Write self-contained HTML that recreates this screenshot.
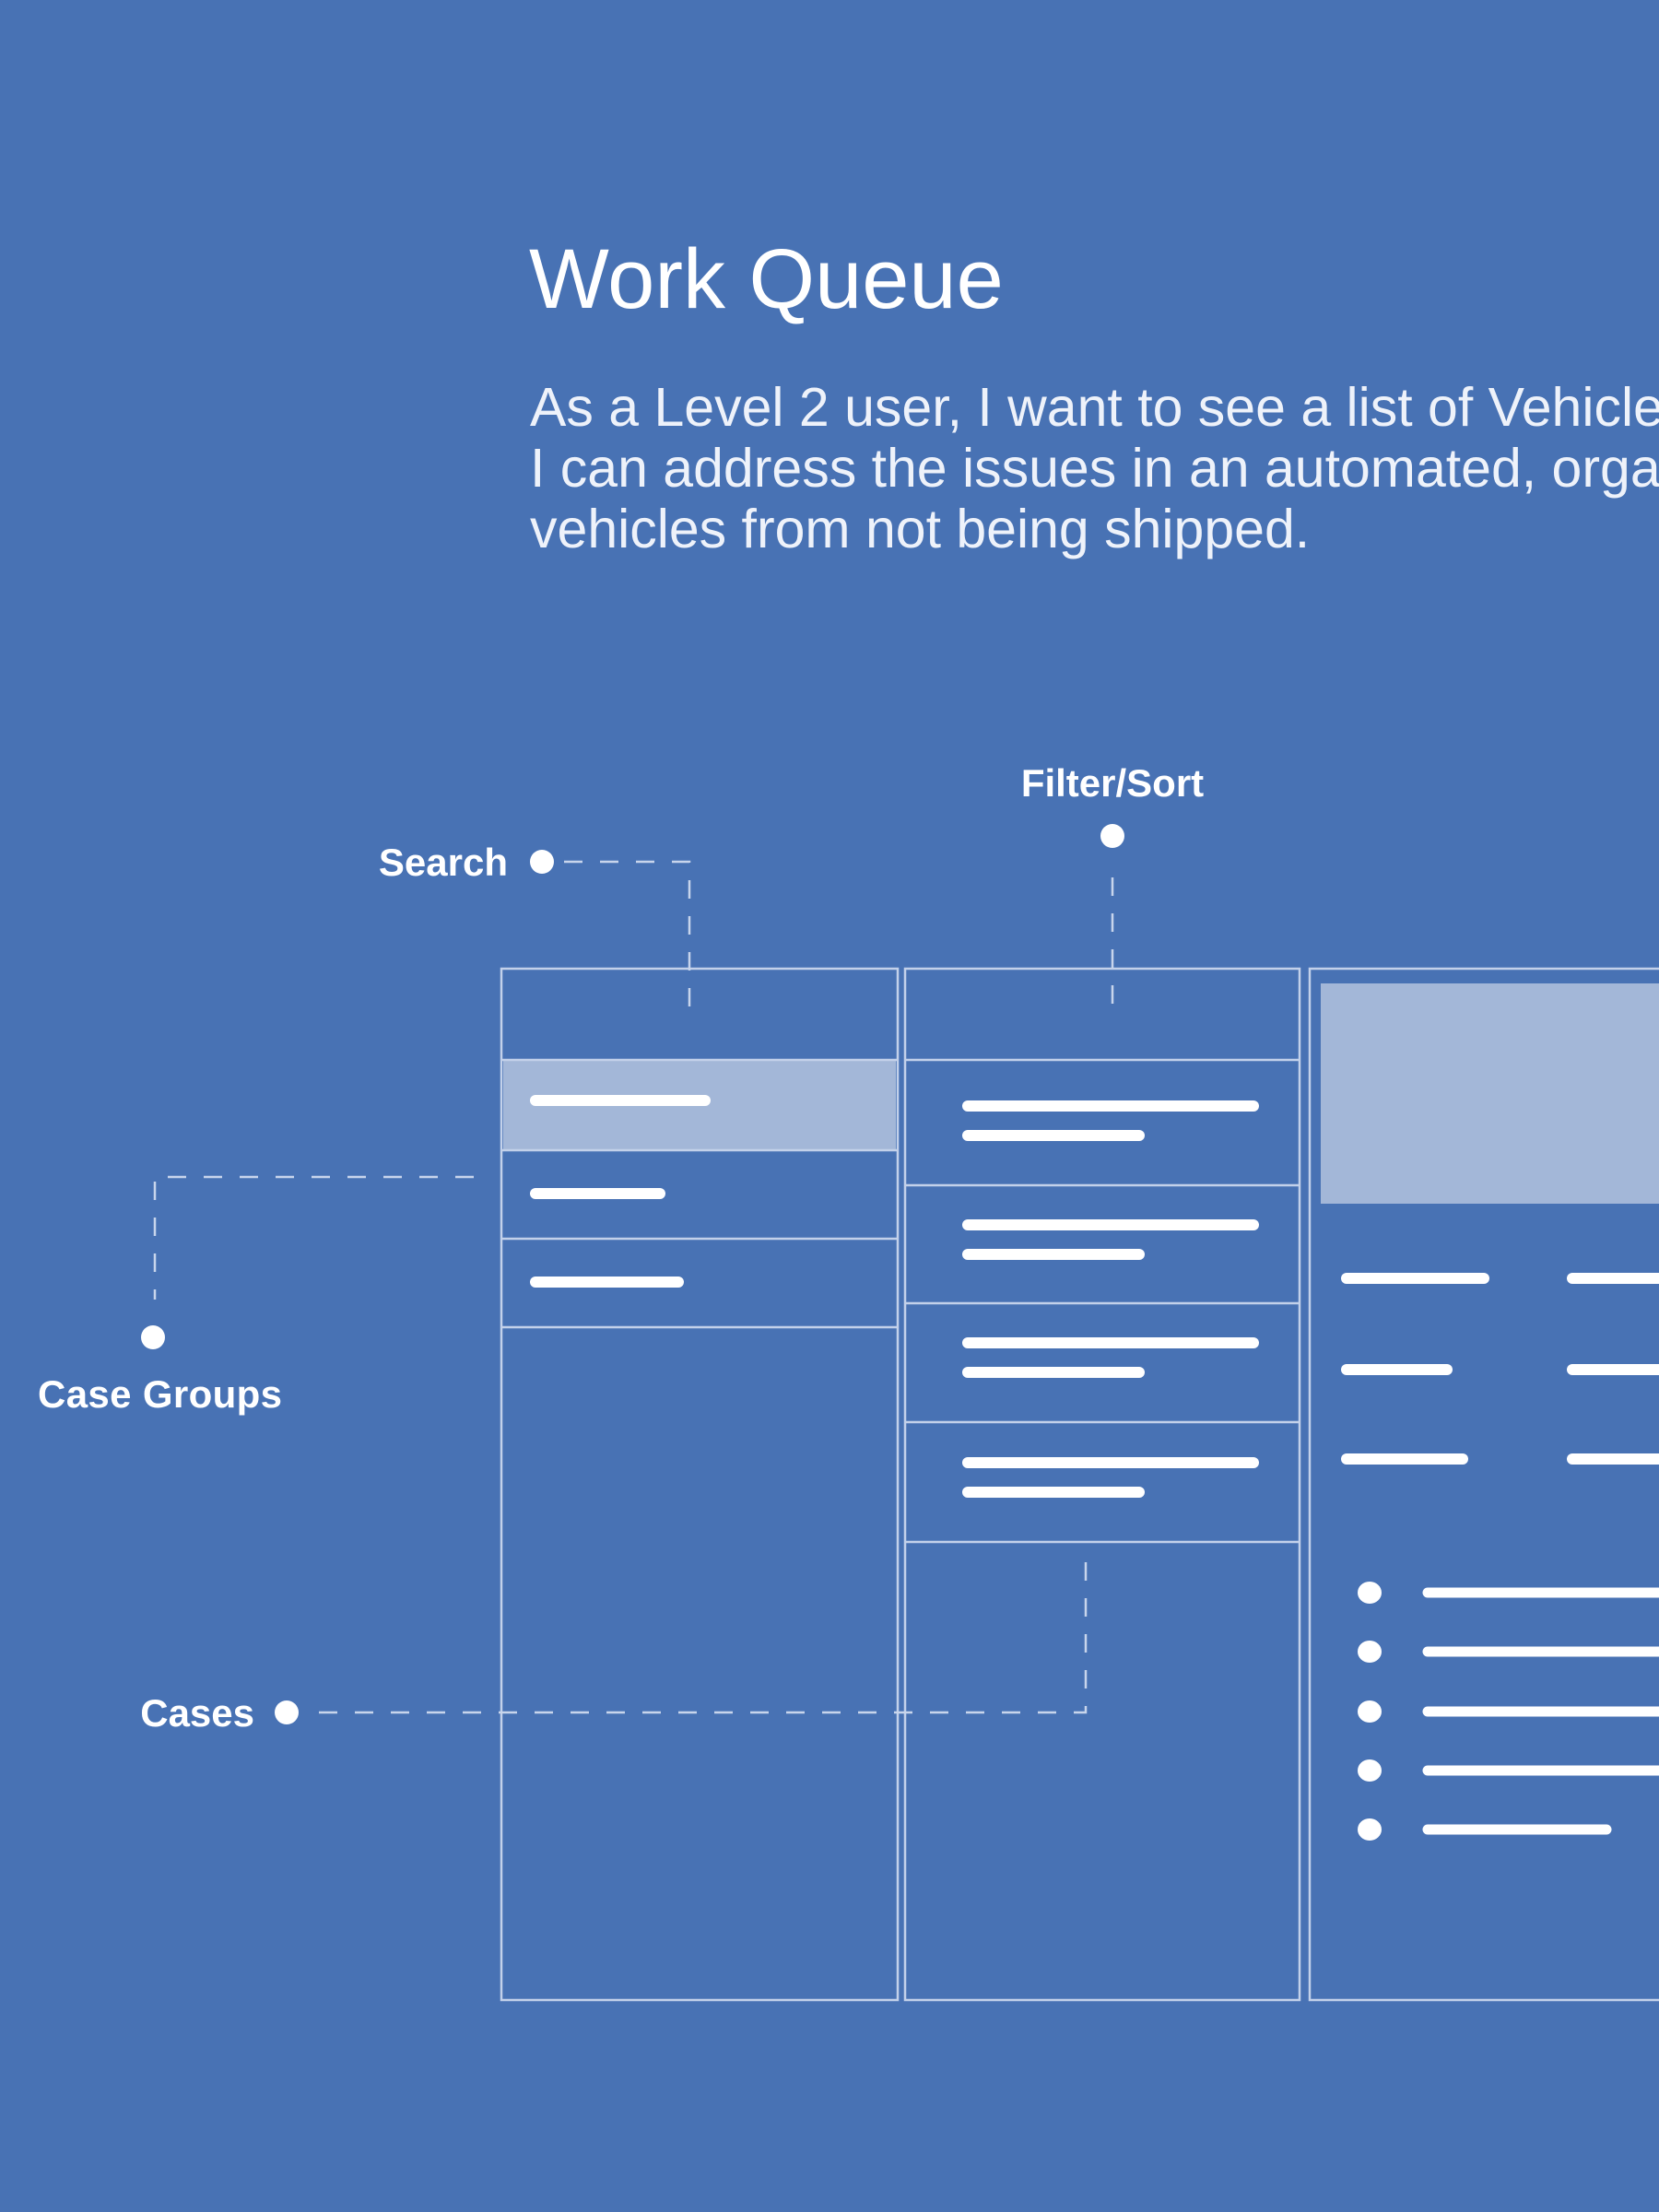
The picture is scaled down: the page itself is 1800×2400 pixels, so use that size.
<!DOCTYPE html>
<html><head><meta charset="utf-8"><style>
html,body{margin:0;padding:0;}
body{width:1800px;height:2400px;overflow:hidden;background:#4872b4;}
svg{display:block}
</style></head><body>
<svg width="1800" height="2400" viewBox="0 0 1800 2400" xmlns="http://www.w3.org/2000/svg">
<rect width="1800" height="2400" fill="#4872b4"/>
<text x="574" y="334" font-family="Liberation Sans, sans-serif" font-size="92" fill="#ffffff">Work Queue</text>
<g font-family="Liberation Sans, sans-serif" font-size="59" fill="#eef2fa">
<text x="575" y="462">As a Level 2 user, I want to see a list of Vehicles with issues so that</text>
<text x="575" y="528">I can address the issues in an automated, organized manner and prevent</text>
<text x="575" y="594">vehicles from not being shipped.</text>
</g>
<!-- panels -->
<g fill="none" stroke="#c3d1ea" stroke-width="2.5">
<rect x="544" y="1051" width="430" height="1119"/>
<rect x="982" y="1051" width="428" height="1119"/>
<rect x="1421" y="1051" width="400" height="1119"/>
</g>
<rect x="546" y="1151" width="426" height="97" fill="#a3b7d8"/>
<g stroke="#c3d1ea" stroke-width="2.5">
<line x1="544" y1="1150" x2="974" y2="1150"/>
<line x1="544" y1="1248" x2="974" y2="1248"/>
<line x1="544" y1="1344" x2="974" y2="1344"/>
<line x1="544" y1="1440" x2="974" y2="1440"/>
<line x1="982" y1="1150" x2="1410" y2="1150"/>
<line x1="982" y1="1286" x2="1410" y2="1286"/>
<line x1="982" y1="1414" x2="1410" y2="1414"/>
<line x1="982" y1="1543" x2="1410" y2="1543"/>
<line x1="982" y1="1673" x2="1410" y2="1673"/>
</g>
<rect x="1433" y="1067" width="380" height="239" fill="#a3b7d8"/>
<g stroke="#ffffff" stroke-width="12" stroke-linecap="round">
<line x1="581" y1="1194" x2="765" y2="1194"/>
<line x1="581" y1="1295" x2="716" y2="1295"/>
<line x1="581" y1="1391" x2="736" y2="1391"/>
<line x1="1050" y1="1200" x2="1360" y2="1200"/>
<line x1="1050" y1="1232" x2="1236" y2="1232"/>
<line x1="1050" y1="1329" x2="1360" y2="1329"/>
<line x1="1050" y1="1361" x2="1236" y2="1361"/>
<line x1="1050" y1="1457" x2="1360" y2="1457"/>
<line x1="1050" y1="1489" x2="1236" y2="1489"/>
<line x1="1050" y1="1587" x2="1360" y2="1587"/>
<line x1="1050" y1="1619" x2="1236" y2="1619"/>
<line x1="1461" y1="1387" x2="1610" y2="1387"/>
<line x1="1461" y1="1486" x2="1570" y2="1486"/>
<line x1="1461" y1="1583" x2="1587" y2="1583"/>
<line x1="1706" y1="1387" x2="1820" y2="1387"/>
<line x1="1706" y1="1486" x2="1820" y2="1486"/>
<line x1="1706" y1="1583" x2="1820" y2="1583"/>
</g>
<g stroke="#ffffff" stroke-width="11" stroke-linecap="round">
<line x1="1549" y1="1728" x2="1820" y2="1728"/>
<line x1="1549" y1="1792" x2="1820" y2="1792"/>
<line x1="1549" y1="1857" x2="1820" y2="1857"/>
<line x1="1549" y1="1921" x2="1820" y2="1921"/>
<line x1="1549" y1="1985" x2="1743" y2="1985"/>
</g>
<g fill="#ffffff">
<ellipse cx="1486" cy="1728" rx="13" ry="12"/>
<ellipse cx="1486" cy="1792" rx="13" ry="12"/>
<ellipse cx="1486" cy="1857" rx="13" ry="12"/>
<ellipse cx="1486" cy="1921" rx="13" ry="12"/>
<ellipse cx="1486" cy="1985" rx="13" ry="12"/>
</g>
<!-- connectors -->
<g fill="none" stroke="#c8d5ec" stroke-width="2.5" stroke-dasharray="20 19">
<polyline points="612,935 748,935 748,1093"/>
<line x1="1207" y1="952" x2="1207" y2="1094"/>
<polyline points="514,1277 168,1277 168,1410"/>
<polyline points="346,1858 1178,1858 1178,1690"/>
</g>
<g fill="#ffffff">
<circle cx="588" cy="935" r="13"/>
<circle cx="1207" cy="907" r="13"/>
<circle cx="166" cy="1451" r="13"/>
<circle cx="311" cy="1858" r="13"/>
</g>
<g font-family="Liberation Sans, sans-serif" font-size="42" font-weight="bold" fill="#ffffff">
<text x="1207" y="864" text-anchor="middle">Filter/Sort</text>
<text x="551" y="950" text-anchor="end">Search</text>
<text x="41" y="1527" textLength="265" lengthAdjust="spacing">Case Groups</text>
<text x="276" y="1873" text-anchor="end">Cases</text>
</g>
</svg>
</body></html>
